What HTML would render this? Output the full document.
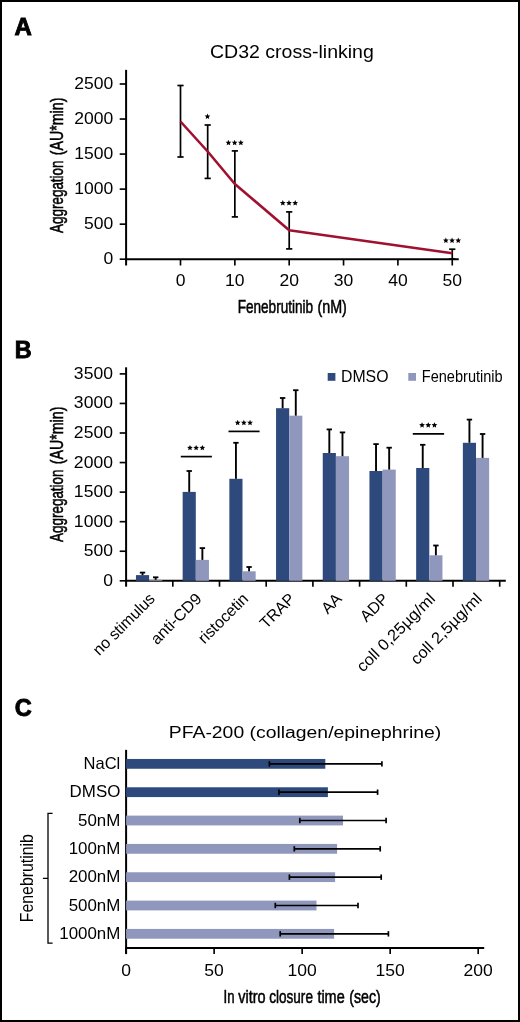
<!DOCTYPE html>
<html><head><meta charset="utf-8"><title>Figure</title>
<style>
html,body{margin:0;padding:0;background:#fff;}
body{width:520px;height:1022px;overflow:hidden;}
svg{display:block;font-family:"Liberation Sans", sans-serif;will-change:transform;}
text{fill:#000;}
</style></head><body>
<svg width="520" height="1022" viewBox="0 0 520 1022">
<rect x="0" y="0" width="520" height="1022" fill="#fff"/>
<text transform="translate(14.60,35.00)" font-size="24.0" text-anchor="start" font-weight="bold" stroke="#000" stroke-width="0.9">A</text>
<text transform="translate(291.90,58.40) scale(1.1100,1)" font-size="17.6" text-anchor="middle" font-weight="normal" >CD32 cross-linking</text>
<line x1="126.10" y1="69.85" x2="126.10" y2="265.50" stroke="#000" stroke-width="2.0" stroke-linecap="butt"/>
<line x1="125.10" y1="259.20" x2="458.75" y2="259.20" stroke="#000" stroke-width="2.0" stroke-linecap="butt"/>
<line x1="119.70" y1="259.20" x2="126.10" y2="259.20" stroke="#000" stroke-width="1.65" stroke-linecap="butt"/>
<text transform="translate(113.30,264.20) scale(1.1250,1)" font-size="15.6" text-anchor="end" font-weight="normal" >0</text>
<line x1="119.70" y1="224.16" x2="126.10" y2="224.16" stroke="#000" stroke-width="1.65" stroke-linecap="butt"/>
<text transform="translate(113.30,229.16) scale(1.1250,1)" font-size="15.6" text-anchor="end" font-weight="normal" >500</text>
<line x1="119.70" y1="189.12" x2="126.10" y2="189.12" stroke="#000" stroke-width="1.65" stroke-linecap="butt"/>
<text transform="translate(113.30,194.12) scale(1.1250,1)" font-size="15.6" text-anchor="end" font-weight="normal" >1000</text>
<line x1="119.70" y1="154.08" x2="126.10" y2="154.08" stroke="#000" stroke-width="1.65" stroke-linecap="butt"/>
<text transform="translate(113.30,159.08) scale(1.1250,1)" font-size="15.6" text-anchor="end" font-weight="normal" >1500</text>
<line x1="119.70" y1="119.04" x2="126.10" y2="119.04" stroke="#000" stroke-width="1.65" stroke-linecap="butt"/>
<text transform="translate(113.30,124.04) scale(1.1250,1)" font-size="15.6" text-anchor="end" font-weight="normal" >2000</text>
<line x1="119.70" y1="84.00" x2="126.10" y2="84.00" stroke="#000" stroke-width="1.65" stroke-linecap="butt"/>
<text transform="translate(113.30,89.00) scale(1.1250,1)" font-size="15.6" text-anchor="end" font-weight="normal" >2500</text>
<line x1="180.50" y1="259.20" x2="180.50" y2="265.50" stroke="#000" stroke-width="1.65" stroke-linecap="butt"/>
<text transform="translate(180.50,286.30) scale(1.1250,1)" font-size="15.6" text-anchor="middle" font-weight="normal" >0</text>
<line x1="234.85" y1="259.20" x2="234.85" y2="265.50" stroke="#000" stroke-width="1.65" stroke-linecap="butt"/>
<text transform="translate(234.85,286.30) scale(1.1250,1)" font-size="15.6" text-anchor="middle" font-weight="normal" >10</text>
<line x1="289.20" y1="259.20" x2="289.20" y2="265.50" stroke="#000" stroke-width="1.65" stroke-linecap="butt"/>
<text transform="translate(289.20,286.30) scale(1.1250,1)" font-size="15.6" text-anchor="middle" font-weight="normal" >20</text>
<line x1="343.55" y1="259.20" x2="343.55" y2="265.50" stroke="#000" stroke-width="1.65" stroke-linecap="butt"/>
<text transform="translate(343.55,286.30) scale(1.1250,1)" font-size="15.6" text-anchor="middle" font-weight="normal" >30</text>
<line x1="397.90" y1="259.20" x2="397.90" y2="265.50" stroke="#000" stroke-width="1.65" stroke-linecap="butt"/>
<text transform="translate(397.90,286.30) scale(1.1250,1)" font-size="15.6" text-anchor="middle" font-weight="normal" >40</text>
<line x1="452.25" y1="259.20" x2="452.25" y2="265.50" stroke="#000" stroke-width="1.65" stroke-linecap="butt"/>
<text transform="translate(452.25,286.30) scale(1.1250,1)" font-size="15.6" text-anchor="middle" font-weight="normal" >50</text>
<text transform="translate(63.00,232.90) rotate(-90)" font-size="18.5" textLength="72.40" lengthAdjust="spacingAndGlyphs" stroke="#000" stroke-width="0.55">Aggregation</text>
<text transform="translate(63.00,155.20) rotate(-90)" font-size="18.5" textLength="57.60" lengthAdjust="spacingAndGlyphs" stroke="#000" stroke-width="0.55">(AU*min)</text>
<text transform="translate(237.65,313.20)" font-size="18.5" textLength="75.45" lengthAdjust="spacingAndGlyphs" stroke="#000" stroke-width="0.55">Fenebrutinib</text>
<text transform="translate(317.40,313.20)" font-size="18.5" textLength="29.45" lengthAdjust="spacingAndGlyphs" stroke="#000" stroke-width="0.55">(nM)</text>
<line x1="180.50" y1="85.50" x2="180.50" y2="157.00" stroke="#000" stroke-width="1.7" stroke-linecap="butt"/>
<line x1="177.40" y1="85.50" x2="183.60" y2="85.50" stroke="#000" stroke-width="1.7" stroke-linecap="butt"/>
<line x1="177.40" y1="157.00" x2="183.60" y2="157.00" stroke="#000" stroke-width="1.7" stroke-linecap="butt"/>
<line x1="207.68" y1="125.00" x2="207.68" y2="178.40" stroke="#000" stroke-width="1.7" stroke-linecap="butt"/>
<line x1="204.58" y1="125.00" x2="210.78" y2="125.00" stroke="#000" stroke-width="1.7" stroke-linecap="butt"/>
<line x1="204.58" y1="178.40" x2="210.78" y2="178.40" stroke="#000" stroke-width="1.7" stroke-linecap="butt"/>
<line x1="234.85" y1="150.90" x2="234.85" y2="216.90" stroke="#000" stroke-width="1.7" stroke-linecap="butt"/>
<line x1="231.75" y1="150.90" x2="237.95" y2="150.90" stroke="#000" stroke-width="1.7" stroke-linecap="butt"/>
<line x1="231.75" y1="216.90" x2="237.95" y2="216.90" stroke="#000" stroke-width="1.7" stroke-linecap="butt"/>
<line x1="289.20" y1="211.90" x2="289.20" y2="248.90" stroke="#000" stroke-width="1.7" stroke-linecap="butt"/>
<line x1="286.10" y1="211.90" x2="292.30" y2="211.90" stroke="#000" stroke-width="1.7" stroke-linecap="butt"/>
<line x1="286.10" y1="248.90" x2="292.30" y2="248.90" stroke="#000" stroke-width="1.7" stroke-linecap="butt"/>
<line x1="452.25" y1="249.20" x2="452.25" y2="259.00" stroke="#000" stroke-width="1.7" stroke-linecap="butt"/>
<line x1="449.15" y1="249.20" x2="455.35" y2="249.20" stroke="#000" stroke-width="1.7" stroke-linecap="butt"/>
<line x1="449.15" y1="259.00" x2="455.35" y2="259.00" stroke="#000" stroke-width="1.7" stroke-linecap="butt"/>
<polyline fill="none" stroke="#a0112f" stroke-width="2.6" stroke-linejoin="round" points="180.50,121.50 207.68,151.50 234.85,184.00 289.20,230.20 452.25,253.20"/>
<polygon points="207.48,113.55 208.30,115.42 210.33,115.62 208.81,116.98 209.24,118.98 207.48,117.95 205.71,118.98 206.14,116.98 204.62,115.62 206.65,115.42" fill="#000"/>
<polygon points="228.45,139.80 229.27,141.67 231.30,141.87 229.78,143.23 230.21,145.23 228.45,144.20 226.69,145.23 227.12,143.23 225.60,141.87 227.63,141.67" fill="#000"/>
<polygon points="234.65,139.80 235.47,141.67 237.50,141.87 235.98,143.23 236.41,145.23 234.65,144.20 232.89,145.23 233.32,143.23 231.80,141.87 233.83,141.67" fill="#000"/>
<polygon points="240.85,139.80 241.67,141.67 243.70,141.87 242.18,143.23 242.61,145.23 240.85,144.20 239.09,145.23 239.52,143.23 238.00,141.87 240.03,141.67" fill="#000"/>
<polygon points="282.80,200.05 283.62,201.92 285.65,202.12 284.13,203.48 284.56,205.48 282.80,204.45 281.04,205.48 281.47,203.48 279.95,202.12 281.98,201.92" fill="#000"/>
<polygon points="289.00,200.05 289.82,201.92 291.85,202.12 290.33,203.48 290.76,205.48 289.00,204.45 287.24,205.48 287.67,203.48 286.15,202.12 288.18,201.92" fill="#000"/>
<polygon points="295.20,200.05 296.02,201.92 298.05,202.12 296.53,203.48 296.96,205.48 295.20,204.45 293.44,205.48 293.87,203.48 292.35,202.12 294.38,201.92" fill="#000"/>
<polygon points="445.85,237.55 446.67,239.42 448.70,239.62 447.18,240.98 447.61,242.98 445.85,241.95 444.09,242.98 444.52,240.98 443.00,239.62 445.03,239.42" fill="#000"/>
<polygon points="452.05,237.55 452.87,239.42 454.90,239.62 453.38,240.98 453.81,242.98 452.05,241.95 450.29,242.98 450.72,240.98 449.20,239.62 451.23,239.42" fill="#000"/>
<polygon points="458.25,237.55 459.07,239.42 461.10,239.62 459.58,240.98 460.01,242.98 458.25,241.95 456.49,242.98 456.92,240.98 455.40,239.62 457.43,239.42" fill="#000"/>
<text transform="translate(14.80,358.40)" font-size="23.4" text-anchor="start" font-weight="bold" stroke="#000" stroke-width="0.9">B</text>
<line x1="126.10" y1="367.30" x2="126.10" y2="586.70" stroke="#000" stroke-width="2.0" stroke-linecap="butt"/>
<line x1="125.10" y1="580.80" x2="505.80" y2="580.80" stroke="#000" stroke-width="2.0" stroke-linecap="butt"/>
<line x1="119.70" y1="580.80" x2="126.10" y2="580.80" stroke="#000" stroke-width="1.65" stroke-linecap="butt"/>
<text transform="translate(112.90,585.80) scale(1.1250,1)" font-size="15.6" text-anchor="end" font-weight="normal" >0</text>
<line x1="119.70" y1="551.24" x2="126.10" y2="551.24" stroke="#000" stroke-width="1.65" stroke-linecap="butt"/>
<text transform="translate(112.90,556.24) scale(1.1250,1)" font-size="15.6" text-anchor="end" font-weight="normal" >500</text>
<line x1="119.70" y1="521.68" x2="126.10" y2="521.68" stroke="#000" stroke-width="1.65" stroke-linecap="butt"/>
<text transform="translate(112.90,526.68) scale(1.1250,1)" font-size="15.6" text-anchor="end" font-weight="normal" >1000</text>
<line x1="119.70" y1="492.12" x2="126.10" y2="492.12" stroke="#000" stroke-width="1.65" stroke-linecap="butt"/>
<text transform="translate(112.90,497.12) scale(1.1250,1)" font-size="15.6" text-anchor="end" font-weight="normal" >1500</text>
<line x1="119.70" y1="462.56" x2="126.10" y2="462.56" stroke="#000" stroke-width="1.65" stroke-linecap="butt"/>
<text transform="translate(112.90,467.56) scale(1.1250,1)" font-size="15.6" text-anchor="end" font-weight="normal" >2000</text>
<line x1="119.70" y1="433.00" x2="126.10" y2="433.00" stroke="#000" stroke-width="1.65" stroke-linecap="butt"/>
<text transform="translate(112.90,438.00) scale(1.1250,1)" font-size="15.6" text-anchor="end" font-weight="normal" >2500</text>
<line x1="119.70" y1="403.44" x2="126.10" y2="403.44" stroke="#000" stroke-width="1.65" stroke-linecap="butt"/>
<text transform="translate(112.90,408.44) scale(1.1250,1)" font-size="15.6" text-anchor="end" font-weight="normal" >3000</text>
<line x1="119.70" y1="373.88" x2="126.10" y2="373.88" stroke="#000" stroke-width="1.65" stroke-linecap="butt"/>
<text transform="translate(112.90,378.88) scale(1.1250,1)" font-size="15.6" text-anchor="end" font-weight="normal" >3500</text>
<line x1="172.80" y1="580.80" x2="172.80" y2="586.70" stroke="#000" stroke-width="1.65" stroke-linecap="butt"/>
<line x1="219.50" y1="580.80" x2="219.50" y2="586.70" stroke="#000" stroke-width="1.65" stroke-linecap="butt"/>
<line x1="266.20" y1="580.80" x2="266.20" y2="586.70" stroke="#000" stroke-width="1.65" stroke-linecap="butt"/>
<line x1="312.90" y1="580.80" x2="312.90" y2="586.70" stroke="#000" stroke-width="1.65" stroke-linecap="butt"/>
<line x1="359.60" y1="580.80" x2="359.60" y2="586.70" stroke="#000" stroke-width="1.65" stroke-linecap="butt"/>
<line x1="406.30" y1="580.80" x2="406.30" y2="586.70" stroke="#000" stroke-width="1.65" stroke-linecap="butt"/>
<line x1="453.00" y1="580.80" x2="453.00" y2="586.70" stroke="#000" stroke-width="1.65" stroke-linecap="butt"/>
<line x1="499.70" y1="580.80" x2="499.70" y2="586.70" stroke="#000" stroke-width="1.65" stroke-linecap="butt"/>
<text transform="translate(63.00,541.90) rotate(-90)" font-size="18.5" textLength="72.40" lengthAdjust="spacingAndGlyphs" stroke="#000" stroke-width="0.55">Aggregation</text>
<text transform="translate(63.00,464.20) rotate(-90)" font-size="18.5" textLength="57.60" lengthAdjust="spacingAndGlyphs" stroke="#000" stroke-width="0.55">(AU*min)</text>
<rect x="327.70" y="373.00" width="7.70" height="7.80" fill="#2e4a7d"/>
<text transform="translate(341.00,382.00) scale(0.9900,1)" font-size="16" text-anchor="start" font-weight="normal" >DMSO</text>
<rect x="408.30" y="373.00" width="7.70" height="7.80" fill="#8f97bd"/>
<text transform="translate(421.80,382.00) scale(0.9100,1)" font-size="16" text-anchor="start" font-weight="normal" >Fenebrutinib</text>
<rect x="135.95" y="575.10" width="13.15" height="5.70" fill="#2e4a7d"/>
<rect x="149.10" y="579.80" width="13.15" height="1.00" fill="#8f97bd"/>
<line x1="142.52" y1="575.10" x2="142.52" y2="572.60" stroke="#000" stroke-width="1.9" stroke-linecap="butt"/>
<line x1="139.82" y1="572.60" x2="145.22" y2="572.60" stroke="#000" stroke-width="1.8" stroke-linecap="butt"/>
<line x1="155.67" y1="579.80" x2="155.67" y2="577.30" stroke="#000" stroke-width="1.9" stroke-linecap="butt"/>
<line x1="152.97" y1="577.30" x2="158.37" y2="577.30" stroke="#000" stroke-width="1.8" stroke-linecap="butt"/>
<rect x="182.65" y="491.90" width="13.15" height="88.90" fill="#2e4a7d"/>
<rect x="195.80" y="559.90" width="13.15" height="20.90" fill="#8f97bd"/>
<line x1="189.22" y1="491.90" x2="189.22" y2="471.00" stroke="#000" stroke-width="1.9" stroke-linecap="butt"/>
<line x1="186.53" y1="471.00" x2="191.92" y2="471.00" stroke="#000" stroke-width="1.8" stroke-linecap="butt"/>
<line x1="202.38" y1="559.90" x2="202.38" y2="548.10" stroke="#000" stroke-width="1.9" stroke-linecap="butt"/>
<line x1="199.68" y1="548.10" x2="205.07" y2="548.10" stroke="#000" stroke-width="1.8" stroke-linecap="butt"/>
<rect x="229.35" y="478.80" width="13.15" height="102.00" fill="#2e4a7d"/>
<rect x="242.50" y="571.30" width="13.15" height="9.50" fill="#8f97bd"/>
<line x1="235.92" y1="478.80" x2="235.92" y2="442.80" stroke="#000" stroke-width="1.9" stroke-linecap="butt"/>
<line x1="233.22" y1="442.80" x2="238.62" y2="442.80" stroke="#000" stroke-width="1.8" stroke-linecap="butt"/>
<line x1="249.07" y1="571.30" x2="249.07" y2="567.00" stroke="#000" stroke-width="1.9" stroke-linecap="butt"/>
<line x1="246.38" y1="567.00" x2="251.77" y2="567.00" stroke="#000" stroke-width="1.8" stroke-linecap="butt"/>
<rect x="276.05" y="408.20" width="13.15" height="172.60" fill="#2e4a7d"/>
<rect x="289.20" y="415.70" width="13.15" height="165.10" fill="#8f97bd"/>
<line x1="282.63" y1="408.20" x2="282.63" y2="398.00" stroke="#000" stroke-width="1.9" stroke-linecap="butt"/>
<line x1="279.93" y1="398.00" x2="285.33" y2="398.00" stroke="#000" stroke-width="1.8" stroke-linecap="butt"/>
<line x1="295.78" y1="415.70" x2="295.78" y2="390.20" stroke="#000" stroke-width="1.9" stroke-linecap="butt"/>
<line x1="293.08" y1="390.20" x2="298.48" y2="390.20" stroke="#000" stroke-width="1.8" stroke-linecap="butt"/>
<rect x="322.75" y="453.00" width="13.15" height="127.80" fill="#2e4a7d"/>
<rect x="335.90" y="456.20" width="13.15" height="124.60" fill="#8f97bd"/>
<line x1="329.32" y1="453.00" x2="329.32" y2="429.40" stroke="#000" stroke-width="1.9" stroke-linecap="butt"/>
<line x1="326.62" y1="429.40" x2="332.02" y2="429.40" stroke="#000" stroke-width="1.8" stroke-linecap="butt"/>
<line x1="342.48" y1="456.20" x2="342.48" y2="432.40" stroke="#000" stroke-width="1.9" stroke-linecap="butt"/>
<line x1="339.78" y1="432.40" x2="345.18" y2="432.40" stroke="#000" stroke-width="1.8" stroke-linecap="butt"/>
<rect x="369.45" y="471.00" width="13.15" height="109.80" fill="#2e4a7d"/>
<rect x="382.60" y="469.60" width="13.15" height="111.20" fill="#8f97bd"/>
<line x1="376.03" y1="471.00" x2="376.03" y2="444.10" stroke="#000" stroke-width="1.9" stroke-linecap="butt"/>
<line x1="373.33" y1="444.10" x2="378.73" y2="444.10" stroke="#000" stroke-width="1.8" stroke-linecap="butt"/>
<line x1="389.18" y1="469.60" x2="389.18" y2="447.70" stroke="#000" stroke-width="1.9" stroke-linecap="butt"/>
<line x1="386.48" y1="447.70" x2="391.88" y2="447.70" stroke="#000" stroke-width="1.8" stroke-linecap="butt"/>
<rect x="416.15" y="468.00" width="13.15" height="112.80" fill="#2e4a7d"/>
<rect x="429.30" y="555.30" width="13.15" height="25.50" fill="#8f97bd"/>
<line x1="422.73" y1="468.00" x2="422.73" y2="444.80" stroke="#000" stroke-width="1.9" stroke-linecap="butt"/>
<line x1="420.03" y1="444.80" x2="425.43" y2="444.80" stroke="#000" stroke-width="1.8" stroke-linecap="butt"/>
<line x1="435.88" y1="555.30" x2="435.88" y2="545.50" stroke="#000" stroke-width="1.9" stroke-linecap="butt"/>
<line x1="433.18" y1="545.50" x2="438.58" y2="545.50" stroke="#000" stroke-width="1.8" stroke-linecap="butt"/>
<rect x="462.85" y="442.80" width="13.15" height="138.00" fill="#2e4a7d"/>
<rect x="476.00" y="457.90" width="13.15" height="122.90" fill="#8f97bd"/>
<line x1="469.43" y1="442.80" x2="469.43" y2="419.60" stroke="#000" stroke-width="1.9" stroke-linecap="butt"/>
<line x1="466.73" y1="419.60" x2="472.12" y2="419.60" stroke="#000" stroke-width="1.8" stroke-linecap="butt"/>
<line x1="482.58" y1="457.90" x2="482.58" y2="434.00" stroke="#000" stroke-width="1.9" stroke-linecap="butt"/>
<line x1="479.88" y1="434.00" x2="485.28" y2="434.00" stroke="#000" stroke-width="1.8" stroke-linecap="butt"/>
<line x1="180.80" y1="456.60" x2="211.90" y2="456.60" stroke="#000" stroke-width="1.7" stroke-linecap="butt"/>
<polygon points="189.95,444.90 190.77,446.77 192.80,446.97 191.28,448.33 191.71,450.33 189.95,449.30 188.19,450.33 188.62,448.33 187.10,446.97 189.13,446.77" fill="#000"/>
<polygon points="196.15,444.90 196.97,446.77 199.00,446.97 197.48,448.33 197.91,450.33 196.15,449.30 194.39,450.33 194.82,448.33 193.30,446.97 195.33,446.77" fill="#000"/>
<polygon points="202.35,444.90 203.17,446.77 205.20,446.97 203.68,448.33 204.11,450.33 202.35,449.30 200.59,450.33 201.02,448.33 199.50,446.97 201.53,446.77" fill="#000"/>
<line x1="228.50" y1="431.40" x2="259.60" y2="431.40" stroke="#000" stroke-width="1.7" stroke-linecap="butt"/>
<polygon points="237.65,419.80 238.47,421.67 240.50,421.87 238.98,423.23 239.41,425.23 237.65,424.20 235.89,425.23 236.32,423.23 234.80,421.87 236.83,421.67" fill="#000"/>
<polygon points="243.85,419.80 244.67,421.67 246.70,421.87 245.18,423.23 245.61,425.23 243.85,424.20 242.09,425.23 242.52,423.23 241.00,421.87 243.03,421.67" fill="#000"/>
<polygon points="250.05,419.80 250.87,421.67 252.90,421.87 251.38,423.23 251.81,425.23 250.05,424.20 248.29,425.23 248.72,423.23 247.20,421.87 249.23,421.67" fill="#000"/>
<line x1="412.80" y1="433.80" x2="444.10" y2="433.80" stroke="#000" stroke-width="1.7" stroke-linecap="butt"/>
<polygon points="422.05,422.20 422.87,424.07 424.90,424.27 423.38,425.63 423.81,427.63 422.05,426.60 420.29,427.63 420.72,425.63 419.20,424.27 421.23,424.07" fill="#000"/>
<polygon points="428.25,422.20 429.07,424.07 431.10,424.27 429.58,425.63 430.01,427.63 428.25,426.60 426.49,427.63 426.92,425.63 425.40,424.27 427.43,424.07" fill="#000"/>
<polygon points="434.45,422.20 435.27,424.07 437.30,424.27 435.78,425.63 436.21,427.63 434.45,426.60 432.69,427.63 433.12,425.63 431.60,424.27 433.63,424.07" fill="#000"/>
<text transform="translate(155.95,599.70) rotate(-45) scale(0.9900,1)" font-size="16" text-anchor="end" font-weight="normal" >no stimulus</text>
<text transform="translate(202.65,599.70) rotate(-45) scale(1.0250,1)" font-size="16" text-anchor="end" font-weight="normal" >anti-CD9</text>
<text transform="translate(249.35,599.70) rotate(-45) scale(0.9900,1)" font-size="16" text-anchor="end" font-weight="normal" >ristocetin</text>
<text transform="translate(296.05,599.70) rotate(-45) scale(0.9900,1)" font-size="16" text-anchor="end" font-weight="normal" >TRAP</text>
<text transform="translate(342.75,599.70) rotate(-45) scale(0.9900,1)" font-size="16" text-anchor="end" font-weight="normal" >AA</text>
<text transform="translate(389.45,599.70) rotate(-45) scale(0.9900,1)" font-size="16" text-anchor="end" font-weight="normal" >ADP</text>
<text transform="translate(436.15,599.70) rotate(-45) scale(1.0450,1)" font-size="16" text-anchor="end" font-weight="normal" >coll 0,25µg/ml</text>
<text transform="translate(482.85,599.70) rotate(-45) scale(1.0350,1)" font-size="16" text-anchor="end" font-weight="normal" >coll 2,5µg/ml</text>
<text transform="translate(14.70,715.70)" font-size="23.5" text-anchor="start" font-weight="bold" stroke="#000" stroke-width="0.9">C</text>
<text transform="translate(305.00,738.30) scale(1.1200,1)" font-size="17.3" text-anchor="middle" font-weight="normal" >PFA-200 (collagen/epinephrine)</text>
<line x1="126.10" y1="749.85" x2="126.10" y2="954.10" stroke="#000" stroke-width="2.0" stroke-linecap="butt"/>
<line x1="125.10" y1="947.90" x2="484.20" y2="947.90" stroke="#000" stroke-width="2.0" stroke-linecap="butt"/>
<line x1="126.10" y1="947.90" x2="126.10" y2="954.10" stroke="#000" stroke-width="1.65" stroke-linecap="butt"/>
<text transform="translate(126.10,975.50) scale(1.1250,1)" font-size="15.6" text-anchor="middle" font-weight="normal" >0</text>
<line x1="214.12" y1="947.90" x2="214.12" y2="954.10" stroke="#000" stroke-width="1.65" stroke-linecap="butt"/>
<text transform="translate(214.12,975.50) scale(1.1250,1)" font-size="15.6" text-anchor="middle" font-weight="normal" >50</text>
<line x1="302.15" y1="947.90" x2="302.15" y2="954.10" stroke="#000" stroke-width="1.65" stroke-linecap="butt"/>
<text transform="translate(302.15,975.50) scale(1.1250,1)" font-size="15.6" text-anchor="middle" font-weight="normal" >100</text>
<line x1="390.17" y1="947.90" x2="390.17" y2="954.10" stroke="#000" stroke-width="1.65" stroke-linecap="butt"/>
<text transform="translate(390.17,975.50) scale(1.1250,1)" font-size="15.6" text-anchor="middle" font-weight="normal" >150</text>
<line x1="478.20" y1="947.90" x2="478.20" y2="954.10" stroke="#000" stroke-width="1.65" stroke-linecap="butt"/>
<text transform="translate(478.20,975.50) scale(1.1250,1)" font-size="15.6" text-anchor="middle" font-weight="normal" >200</text>
<text transform="translate(223.50,1002.50)" font-size="18.5" textLength="11.00" lengthAdjust="spacingAndGlyphs" stroke="#000" stroke-width="0.55">In</text>
<text transform="translate(238.20,1002.50)" font-size="18.5" textLength="27.30" lengthAdjust="spacingAndGlyphs" stroke="#000" stroke-width="0.55">vitro</text>
<text transform="translate(269.30,1002.50)" font-size="18.5" textLength="43.60" lengthAdjust="spacingAndGlyphs" stroke="#000" stroke-width="0.55">closure</text>
<text transform="translate(317.40,1002.50)" font-size="18.5" textLength="27.30" lengthAdjust="spacingAndGlyphs" stroke="#000" stroke-width="0.55">time</text>
<text transform="translate(349.30,1002.50)" font-size="18.5" textLength="31.40" lengthAdjust="spacingAndGlyphs" stroke="#000" stroke-width="0.55">(sec)</text>
<rect x="126.10" y="758.95" width="199.20" height="9.80" fill="#2e4a7d"/>
<line x1="269.40" y1="763.85" x2="381.90" y2="763.85" stroke="#000" stroke-width="1.7" stroke-linecap="butt"/>
<line x1="269.40" y1="761.15" x2="269.40" y2="766.55" stroke="#000" stroke-width="1.7" stroke-linecap="butt"/>
<line x1="381.90" y1="761.15" x2="381.90" y2="766.55" stroke="#000" stroke-width="1.7" stroke-linecap="butt"/>
<text transform="translate(120.30,768.85)" font-size="16.5" text-anchor="end" font-weight="normal" >NaCl</text>
<rect x="126.10" y="787.28" width="201.80" height="9.80" fill="#2e4a7d"/>
<line x1="278.90" y1="792.18" x2="377.60" y2="792.18" stroke="#000" stroke-width="1.7" stroke-linecap="butt"/>
<line x1="278.90" y1="789.48" x2="278.90" y2="794.88" stroke="#000" stroke-width="1.7" stroke-linecap="butt"/>
<line x1="377.60" y1="789.48" x2="377.60" y2="794.88" stroke="#000" stroke-width="1.7" stroke-linecap="butt"/>
<text transform="translate(120.30,797.18) scale(1.0250,1)" font-size="16.5" text-anchor="end" font-weight="normal" >DMSO</text>
<rect x="126.10" y="815.61" width="216.90" height="9.80" fill="#8f97bd"/>
<line x1="299.80" y1="820.51" x2="386.10" y2="820.51" stroke="#000" stroke-width="1.7" stroke-linecap="butt"/>
<line x1="299.80" y1="817.81" x2="299.80" y2="823.21" stroke="#000" stroke-width="1.7" stroke-linecap="butt"/>
<line x1="386.10" y1="817.81" x2="386.10" y2="823.21" stroke="#000" stroke-width="1.7" stroke-linecap="butt"/>
<text transform="translate(120.30,825.51) scale(1.0250,1)" font-size="16.5" text-anchor="end" font-weight="normal" >50nM</text>
<rect x="126.10" y="843.94" width="211.00" height="9.80" fill="#8f97bd"/>
<line x1="294.30" y1="848.84" x2="380.20" y2="848.84" stroke="#000" stroke-width="1.7" stroke-linecap="butt"/>
<line x1="294.30" y1="846.14" x2="294.30" y2="851.54" stroke="#000" stroke-width="1.7" stroke-linecap="butt"/>
<line x1="380.20" y1="846.14" x2="380.20" y2="851.54" stroke="#000" stroke-width="1.7" stroke-linecap="butt"/>
<text transform="translate(120.30,853.84) scale(1.0250,1)" font-size="16.5" text-anchor="end" font-weight="normal" >100nM</text>
<rect x="126.10" y="872.27" width="209.00" height="9.80" fill="#8f97bd"/>
<line x1="289.40" y1="877.17" x2="381.20" y2="877.17" stroke="#000" stroke-width="1.7" stroke-linecap="butt"/>
<line x1="289.40" y1="874.47" x2="289.40" y2="879.87" stroke="#000" stroke-width="1.7" stroke-linecap="butt"/>
<line x1="381.20" y1="874.47" x2="381.20" y2="879.87" stroke="#000" stroke-width="1.7" stroke-linecap="butt"/>
<text transform="translate(120.30,882.17) scale(1.0250,1)" font-size="16.5" text-anchor="end" font-weight="normal" >200nM</text>
<rect x="126.10" y="900.60" width="190.40" height="9.80" fill="#8f97bd"/>
<line x1="275.30" y1="905.50" x2="358.00" y2="905.50" stroke="#000" stroke-width="1.7" stroke-linecap="butt"/>
<line x1="275.30" y1="902.80" x2="275.30" y2="908.20" stroke="#000" stroke-width="1.7" stroke-linecap="butt"/>
<line x1="358.00" y1="902.80" x2="358.00" y2="908.20" stroke="#000" stroke-width="1.7" stroke-linecap="butt"/>
<text transform="translate(120.30,910.50) scale(1.0250,1)" font-size="16.5" text-anchor="end" font-weight="normal" >500nM</text>
<rect x="126.10" y="928.93" width="208.00" height="9.80" fill="#8f97bd"/>
<line x1="280.20" y1="933.83" x2="388.40" y2="933.83" stroke="#000" stroke-width="1.7" stroke-linecap="butt"/>
<line x1="280.20" y1="931.13" x2="280.20" y2="936.53" stroke="#000" stroke-width="1.7" stroke-linecap="butt"/>
<line x1="388.40" y1="931.13" x2="388.40" y2="936.53" stroke="#000" stroke-width="1.7" stroke-linecap="butt"/>
<text transform="translate(120.30,938.83) scale(1.0250,1)" font-size="16.5" text-anchor="end" font-weight="normal" >1000nM</text>
<path d="M52.6 813.3 H48 V943.2 H52.6 M48 878.3 H42.9" fill="none" stroke="#000" stroke-width="1.3"/>
<text transform="translate(33.40,878.20) rotate(-90) scale(0.9050,1)" font-size="17.5" text-anchor="middle" font-weight="normal" >Fenebrutinib</text>
<rect x="1" y="1" width="518" height="1020" fill="none" stroke="#000" stroke-width="2"/>
</svg>
</body></html>
